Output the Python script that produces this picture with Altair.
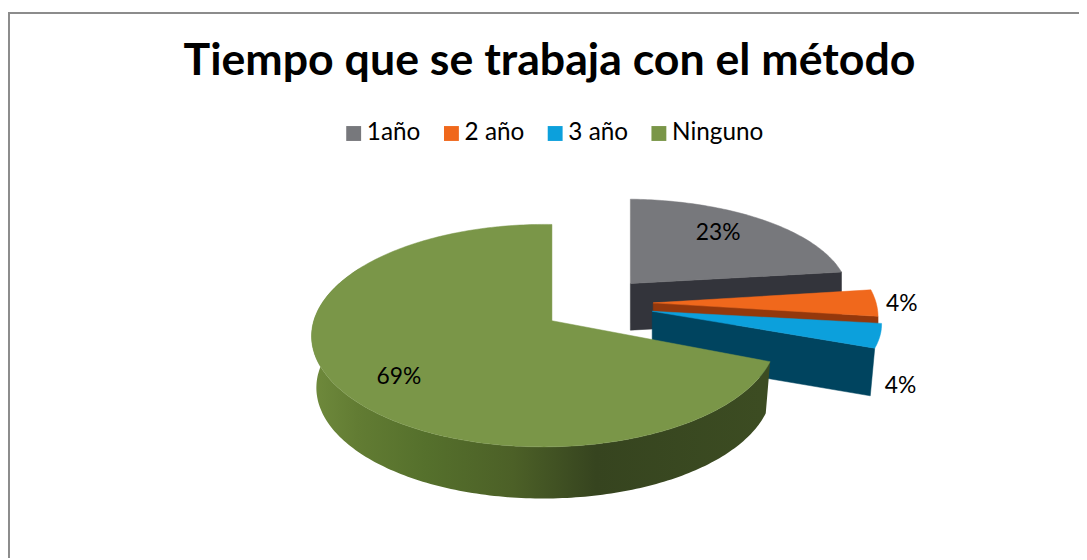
import math
import altair as alt

TITLE = "Tiempo que se trabaja con el método"
labels = ["1año", "2 año", "3 año", "Ninguno"]
shares = [23, 4, 4, 69]
texts = ["23%", "4%", "4%", "69%"]
face_colors = ["#77787c", "#f0681c", "#0ca0dc", "#7a9648"]
wall_colors = ["#33343b", "#94380c", "#00445f", "#3c4c22"]

W, H = 1079, 552
OX, OY = 8, 8
A, B, K, M = 232.0, 110.0, 0.134, 0.033

# apex x, apex y, x scale, y scale, wall depth, wall foot scale
LAYOUT = [
    (635.0, 283.5, 0.97, 0.876, 47, 1.0),
    (658.0, 303.0, 1.0, 1.0, 9, 1.0),
    (657.0, 311.5, 1.02, 0.90, 48, 0.98),
    (556.0, 321.0, 1.0, 1.0, 52, 0.98),
]
# radius fraction, dx, dy
LABEL_PLACE = [(0.72, -10, -3), (1.11, 2, 1), (1.09, 0, 48), (0.72, -5, 9)]
# shading of the green rim, left to right
RIM_STOPS = [(0.0, "#6f8a3c"), (0.1, "#627c33"), (0.25, "#55702c"), (0.44, "#4c6027"),
             (0.62, "#36441f"), (0.98, "#3c4c22")]


def proj(i, deg, r=1.0):
    ax, ay, xs, ys, _, _ = LAYOUT[i]
    u, v = r * math.sin(math.radians(deg)), r * math.cos(math.radians(deg))
    w = 1 + K * v + M * u
    return ax + xs * A * u / w, ay - ys * B * v / w


def foot(i, deg):
    ax, _, _, _, depth, s = LAYOUT[i]
    x, y = proj(i, deg)
    return ax + (x - ax) * s, y + depth


def poly(key, pts):
    ring = [[x - OX, y - OY] for x, y in pts]
    ring.append(ring[0])
    return {"type": "Feature", "properties": {"key": key},
            "geometry": {"type": "Polygon", "coordinates": [ring]}}


back, front, rim = [], [], []
domain, colors = [], []
marks = []


def add(target, key, color, pts):
    target.append(poly(key, pts))
    domain.append(key)
    colors.append(color)


angle = 0.0
for i, share in enumerate(shares):
    start, end = angle, angle + share * 3.6
    angle = end
    ax, ay, _, _, depth, s = LAYOUT[i]
    steps = max(6, int(share * 3.6))
    arc = [start + (end - start) * k / steps for k in range(steps + 1)]
    if i < 3:
        add(back, "wall%d" % i, wall_colors[i], [(ax, ay), proj(i, end), foot(i, end), (ax, ay + depth)])
        add(back, labels[i], face_colors[i], [(ax, ay)] + [proj(i, d) for d in arc])
    else:
        vis = [d for d in arc if d <= 272.0]
        top_edge = [proj(i, d) for d in arc if d <= 300.0]
        rim.append(poly("rim", top_edge + [foot(i, d) for d in reversed(vis)]))
        add(front, labels[i], face_colors[i], [(ax, ay)] + [proj(i, d) for d in arc])
    r, dx, dy = LABEL_PLACE[i]
    lx, ly = proj(i, (start + end) / 2, r)
    marks.append({"text": texts[i], "lon": lx + dx - OX, "lat": ly + dy - OY})

projection = alt.Projection(type="identity", scale=1, translate=[0, 0])
fill_scale = alt.Scale(domain=domain, range=colors)

legend = alt.Legend(
    values=labels, title=None, orient="none", legendX=336, legendY=112,
    direction="horizontal", columns=4, symbolType="square", symbolSize=225,
    symbolStrokeWidth=0, labelFont="Lato", labelFontSize=24.5, labelColor="#000000",
    labelOffset=1, columnPadding=18.5, symbolOpacity=1, labelLimit=200,
)

pie_back = alt.Chart(alt.Data(values=back)).mark_geoshape(strokeWidth=0.5).encode(
    fill=alt.Fill("properties.key:N", scale=fill_scale, legend=legend),
    stroke=alt.Stroke("properties.key:N", scale=fill_scale, legend=None),
)
pie_rim = alt.Chart(alt.Data(values=rim)).mark_geoshape(
    strokeWidth=0,
    fill=alt.Gradient(
        gradient="linear", x1=0, x2=1, y1=0, y2=0,
        stops=[alt.GradientStop(offset=o, color=c) for o, c in RIM_STOPS],
    ),
)
pie_front = alt.Chart(alt.Data(values=front)).mark_geoshape(strokeWidth=0.5).encode(
    fill=alt.Fill("properties.key:N", scale=fill_scale, legend=legend),
    stroke=alt.Stroke("properties.key:N", scale=fill_scale, legend=None),
)

pct = alt.Chart(alt.Data(values=marks)).mark_text(
    font="Lato", fontSize=23, color="#000000", align="center", baseline="middle"
).encode(longitude="lon:Q", latitude="lat:Q", text="text:N")

frame = alt.Chart(alt.Data(values=[{"a": 0}])).mark_rule(color="#8c8c8c", strokeWidth=2)
top = frame.encode(x=alt.value(0), x2=alt.value(W), y=alt.value(3))
left = frame.encode(x=alt.value(1), y=alt.value(3), y2=alt.value(H))

chart = alt.layer(pie_back, pie_rim, pie_front, pct, top, left, projection=projection).properties(
    width=W, height=H, padding=0, autosize=alt.AutoSizeParams(type="none"),
    title=alt.TitleParams(TITLE, font="Lato", fontSize=45, fontWeight="bold", color="#000000",
                          anchor="middle", frame="group", offset=-110, dx=6, baseline="alphabetic"),
).configure_view(stroke=None)

chart.save("out.html", embed_options={"renderer": "svg", "actions": False})
